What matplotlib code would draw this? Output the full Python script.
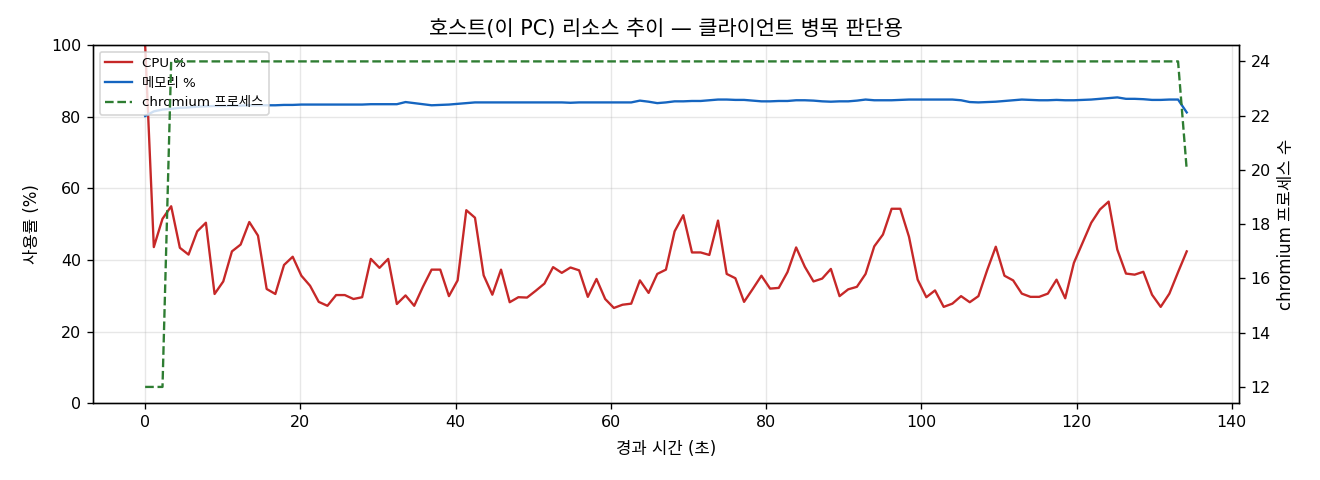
import numpy as np
import matplotlib
matplotlib.use("Agg")
import matplotlib.pyplot as plt

plt.rcParams['font.family'] = ['DejaVu Sans', 'Noto Sans CJK KR']

# 측정 데이터 (약 1.12초 간격, 121 샘플)
duration = 134.2
cpu = [100.0, 43.6, 51.5, 55.0, 43.4, 41.5, 48.0, 50.4, 30.5, 34.0,
       42.4, 44.3, 50.6, 46.8, 31.9, 30.5, 38.6, 40.9, 35.6, 32.8,
       28.3, 27.2, 30.2, 30.2, 29.1, 29.6, 40.3, 37.8, 40.3, 27.7,
       30.1, 27.2, 32.5, 37.3, 37.3, 29.9, 34.3, 53.9, 51.8, 35.7,
       30.3, 37.3, 28.2, 29.6, 29.5, 31.4, 33.4, 38.0, 36.4, 37.9,
       37.1, 29.7, 34.7, 29.1, 26.6, 27.5, 27.8, 34.3, 30.8, 36.1,
       37.3, 48.0, 52.5, 42.1, 42.1, 41.4, 51.0, 36.1, 34.9, 28.3,
       31.9, 35.6, 32.0, 32.2, 36.6, 43.5, 38.1, 34.0, 34.8, 37.5,
       29.9, 31.8, 32.5, 36.1, 43.8, 47.1, 54.3, 54.3, 46.5, 34.5,
       29.6, 31.5, 26.9, 27.8, 29.9, 28.2, 29.9, 37.1, 43.7, 35.6,
       34.3, 30.6, 29.7, 29.7, 30.6, 34.5, 29.3, 39.2, 44.8, 50.4,
       54.1, 56.3, 42.9, 36.2, 35.9, 36.7, 30.3, 26.9, 30.6, 36.6,
       42.4]
mem = [80.2, 81.5, 82.0, 82.2, 82.5, 82.6, 82.8, 82.9, 83.0, 83.0,
       83.1, 83.1, 83.2, 83.2, 83.2, 83.2, 83.3, 83.3, 83.4, 83.4,
       83.4, 83.4, 83.4, 83.4, 83.4, 83.4, 83.5, 83.5, 83.5, 83.5,
       84.1, 83.8, 83.5, 83.2, 83.3, 83.4, 83.6, 83.8, 84.0, 84.0,
       84.0, 84.0, 84.0, 84.0, 84.0, 84.0, 84.0, 84.0, 84.0, 83.9,
       84.0, 84.0, 84.0, 84.0, 84.0, 84.0, 84.0, 84.5, 84.2, 83.8,
       84.0, 84.3, 84.3, 84.4, 84.4, 84.6, 84.8, 84.8, 84.7, 84.7,
       84.5, 84.3, 84.3, 84.4, 84.4, 84.6, 84.6, 84.5, 84.3, 84.2,
       84.3, 84.3, 84.5, 84.8, 84.6, 84.6, 84.6, 84.7, 84.8, 84.8,
       84.8, 84.8, 84.8, 84.8, 84.6, 84.1, 84.0, 84.1, 84.2, 84.4,
       84.6, 84.8, 84.7, 84.6, 84.6, 84.7, 84.6, 84.6, 84.7, 84.8,
       85.0, 85.2, 85.4, 85.0, 85.0, 84.9, 84.7, 84.7, 84.8, 84.8,
       81.2]
chromium = [12, 12, 12] + [24] * 116 + [24, 20]

t = np.arange(len(cpu)) * duration / (len(cpu) - 1)

fig, ax = plt.subplots(figsize=(11, 4), dpi=120)
fig.subplots_adjust(left=0.0705, right=0.9385, top=0.906, bottom=0.16)

l1, = ax.plot(t, cpu, color='#c62828', lw=1.4, label='CPU %')
l2, = ax.plot(t, mem, color='#1565c0', lw=1.4, label='메모리 %')
ax.set_ylim(0, 100)
ax.set_xlabel('경과 시간 (초)', fontsize=10, labelpad=6)
ax.set_ylabel('사용률 (%)', fontsize=10, labelpad=6)
ax.tick_params(labelsize=9.5)
ax.grid(alpha=0.3)

ax2 = ax.twinx()
l3, = ax2.plot(t, chromium, color='#2e7d32', lw=1.4, ls='--', label='chromium 프로세스')
ax2.set_ylabel('chromium 프로세스 수', fontsize=10)
ax2.tick_params(labelsize=9.5)

ax.legend(handles=[l1, l2, l3], loc='upper left', fontsize=8)
ax.set_title('호스트(이 PC) 리소스 추이 — 클라이언트 병목 판단용', fontsize=12.5)

fig.savefig('out.png')
